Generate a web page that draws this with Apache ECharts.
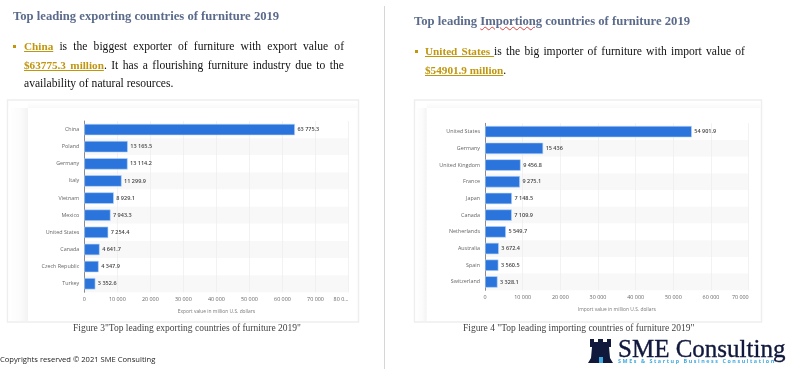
<!DOCTYPE html>
<html><head><meta charset="utf-8">
<script src="https://cdn.jsdelivr.net/npm/echarts@6/dist/echarts.min.js"></script>
<style>
html,body{margin:0;padding:0;background:#fff;width:790px;height:369px;overflow:hidden}
#c{position:absolute;left:0;top:0;width:790px;height:369px}
.t{position:absolute;white-space:nowrap;font-family:"Liberation Serif",serif}
.h{font-weight:bold;color:#5b6b8b;font-size:12.65px;line-height:16px}
.p{font-size:11.6px;line-height:18px;color:#111;white-space:normal;text-align:justify}
.g{color:#c0960f;font-weight:bold;text-decoration:underline;font-size:11.2px}
.b{position:absolute;width:2.5px;height:2.5px;background:#c0960f}
.cap{font-size:9.5px;color:#444;line-height:12px}
</style></head><body>
<div id="c"></div>
<div class="t h" style="left:13px;top:8px">Top leading exporting countries of furniture 2019</div>
<div class="b" style="left:13px;top:45px"></div>
<div class="t p" style="left:24px;top:37px;width:320px">
<span class="g">China</span> is the biggest exporter of furniture with export value of <span class="g">$63775.3 million</span>. It has a flourishing furniture industry due to the availability of natural resources.</div>
<div class="t cap" style="left:73px;top:322px">Figure 3"Top leading exporting countries of furniture 2019"</div>
<div class="t h" style="left:414px;top:13px">Top leading <span style="text-decoration:underline wavy #e04040 0.6px">Importiong</span> countries of furniture 2019</div>
<div class="b" style="left:415px;top:50px"></div>
<div class="t p" style="left:425px;top:42px;width:320px">
<span class="g">United States </span>is the big importer of furniture with import value of <span class="g">$54901.9 million</span>.</div>
<div class="t cap" style="left:463px;top:322px">Figure 4 "Top leading importing countries of furniture 2019"</div>
<div class="t" style="left:0;top:354px;font:7.6px 'Open Sans',sans-serif;color:#222">Copyrights reserved © 2021 SME Consulting</div>
<div class="t" style="left:618px;top:335px;font:25px/28px 'Liberation Serif',serif;color:#10183c;-webkit-text-stroke:0.35px #10183c">SME Consulting</div>
<div class="t" style="left:618px;top:358px;font:bold 5.4px/7px 'Open Sans',sans-serif;color:#3fa9e0;letter-spacing:1.55px">SMEs &amp; Startup Business Consultation</div>
<script>
const exportCountries=['China','Poland','Germany','Italy','Vietnam','Mexico','United States','Canada','Czech Republic','Turkey'];
const exportValues=[63775.3,13165.5,13114.2,11299.9,8929.1,7943.3,7254.4,4641.7,4347.9,3352.6];
const exportTicks=['0','10 000','20 000','30 000','40 000','50 000','60 000','70 000','80 0...'];
const importCountries=['United States','Germany','United Kingdom','France','Japan','Canada','Netherlands','Australia','Spain','Switzerland'];
const importValues=[54901.9,15436,9456.8,9275.1,7148.5,7109.9,5549.7,3672.4,3560.5,3328.1];
const importTicks=['0','10 000','20 000','30 000','40 000','50 000','60 000','70 000'];
const exportAxisName='Export value in million U.S. dollars';
const importAxisName='Import value in million U.S. dollars';
const F="'Open Sans',sans-serif";
function fmt(v){const s=String(v).split('.');return s[0].replace(/\B(?=(\d{3})+$)/g,' ')+(s[1]?'.'+s[1]:'');}
function xAxis(i,max,ticks,name){return {gridIndex:i,type:'value',min:0,max:max,interval:10000,
  name:name,nameLocation:'middle',nameGap:16.5,nameTextStyle:{fontSize:4.9,color:'#777',fontFamily:F},
  axisLine:{show:false},axisTick:{show:false},
  axisLabel:{fontSize:5.4,color:'#666',fontFamily:F,margin:5,alignMaxLabel:'right',hideOverlap:false,showMaxLabel:true,formatter:v=>ticks[Math.round(v/10000)]},
  splitLine:{show:true,lineStyle:{color:'#ececec',width:0.7}}};}
function yAxis(i,cats){return {gridIndex:i,type:'category',data:cats,inverse:true,
  axisLine:{show:true,lineStyle:{color:'#8c8c8c',width:1}},axisTick:{show:false},
  axisLabel:{fontSize:5.4,color:'#666',fontFamily:F,margin:5,interval:0},
  splitArea:{show:true,interval:0,areaStyle:{color:['#ffffff','#f8f8f8']}},splitLine:{show:false}};}
function bars(i,vals){return {type:'bar',xAxisIndex:i,yAxisIndex:i,data:vals,barWidth:11.4,z:3,
  itemStyle:{color:'#2a74dc',borderColor:'#bcd6f6',borderWidth:0.6},
  label:{show:true,position:'right',distance:2.5,fontSize:5.5,fontWeight:600,color:'#444',fontFamily:F,formatter:p=>fmt(p.value)}};}
const frame=(x,w,ix)=>[
 {type:'rect',silent:true,z:-3,shape:{x:x,y:100,width:w,height:222},style:{fill:'#fff',stroke:'#eeeeee',lineWidth:1.5}},
 {type:'rect',silent:true,z:-2,shape:{x:x+1,y:108,width:ix-x-1,height:213},style:{fill:new echarts.graphic.LinearGradient(0,0,1,0,[{offset:0,color:'#ffffff'},{offset:0.6,color:'#fbfbfb'},{offset:1,color:'#f3f3f3'}])}},
 {type:'rect',silent:true,z:-2,shape:{x:ix,y:102,width:x+w-ix-1,height:6},style:{fill:new echarts.graphic.LinearGradient(0,0,0,1,[{offset:0,color:'#ffffff'},{offset:1,color:'#f9f9f9'}])}}
];
const chart=echarts.init(document.getElementById('c'),null,{renderer:'canvas'});
chart.setOption({animation:false,backgroundColor:'#fff',
 grid:[{left:84.3,top:121,width:264.2,height:171.3},{left:485,top:123.3,width:263.7,height:167}],
 xAxis:[xAxis(0,80000,exportTicks,exportAxisName),xAxis(1,70000,importTicks,importAxisName)],
 yAxis:[yAxis(0,exportCountries),yAxis(1,importCountries)],
 series:[bars(0,exportValues),bars(1,importValues)],
 graphic:[
  {type:'line',silent:true,z:-3,shape:{x1:384.5,y1:6,x2:384.5,y2:369},style:{stroke:'#d6d6d6',lineWidth:1}},
  ...frame(7.5,351,28),...frame(414.5,347,426.7),
  {type:'polygon',silent:true,shape:{points:[[590,339],[594,339],[594,342],[598,342],[598,339],[603,339],[603,342],[607,342],[607,339],[611,339],[611,347],[609,347],[610,358],[613,363],[588,363],[591,358],[592,347],[590,347]]},style:{fill:'#10183c'}},
  {type:'rect',silent:true,shape:{x:599,y:357,width:4,height:6},style:{fill:'#3fa9e0'}}
 ]});
</script></body></html>
